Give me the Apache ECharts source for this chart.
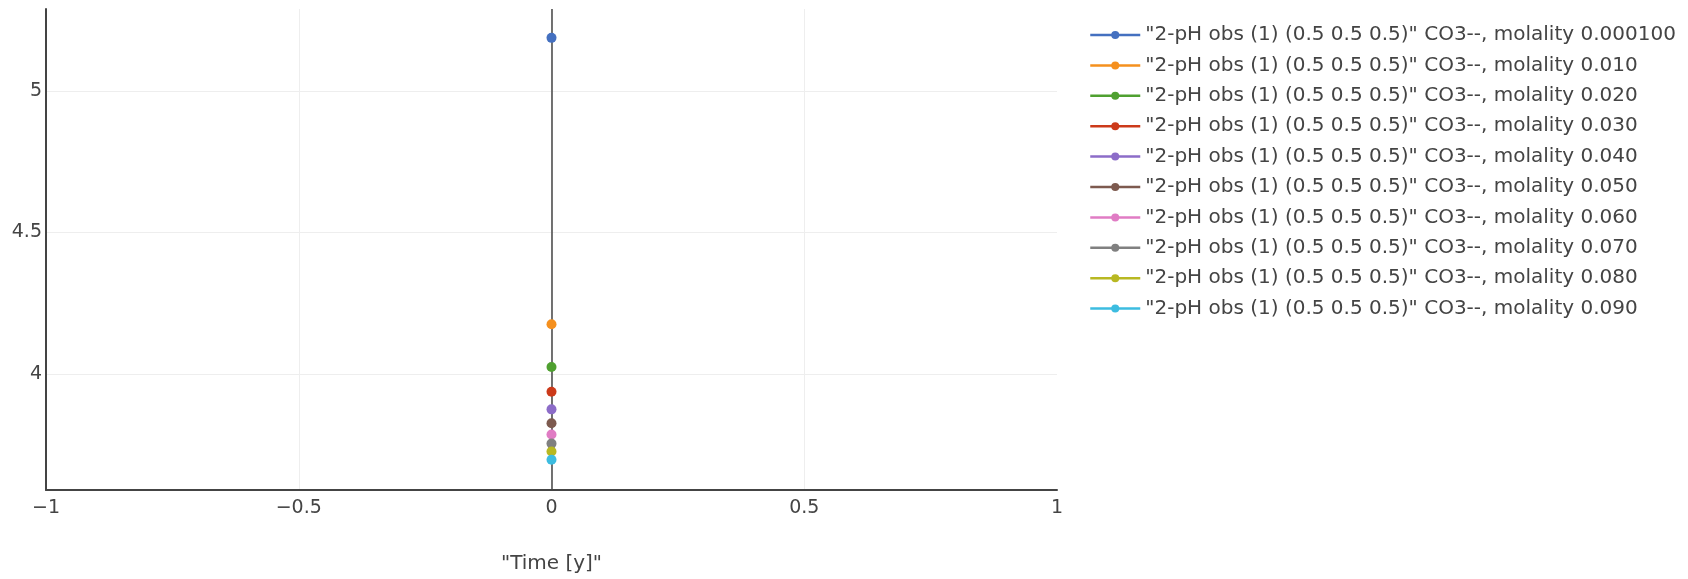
<!DOCTYPE html>
<html>
<head>
<meta charset="utf-8">
<script src="https://cdn.jsdelivr.net/npm/echarts@6/dist/echarts.min.js"></script>
<style>
html,body{margin:0;padding:0;background:#fff;}
#chart{width:1688px;height:579px;}
</style>
</head>
<body>
<div id="chart"></div>
<script>
// ---- data ----
const seriesNames = [
  '"2-pH obs (1) (0.5 0.5 0.5)" CO3--, molality 0.000100',
  '"2-pH obs (1) (0.5 0.5 0.5)" CO3--, molality 0.010',
  '"2-pH obs (1) (0.5 0.5 0.5)" CO3--, molality 0.020',
  '"2-pH obs (1) (0.5 0.5 0.5)" CO3--, molality 0.030',
  '"2-pH obs (1) (0.5 0.5 0.5)" CO3--, molality 0.040',
  '"2-pH obs (1) (0.5 0.5 0.5)" CO3--, molality 0.050',
  '"2-pH obs (1) (0.5 0.5 0.5)" CO3--, molality 0.060',
  '"2-pH obs (1) (0.5 0.5 0.5)" CO3--, molality 0.070',
  '"2-pH obs (1) (0.5 0.5 0.5)" CO3--, molality 0.080',
  '"2-pH obs (1) (0.5 0.5 0.5)" CO3--, molality 0.090'
];
const timeValues = [0];
const pHValues = [5.188, 4.176, 4.025, 3.937, 3.875, 3.826, 3.786, 3.754, 3.726, 3.697];
const seriesColors = ['#4470c0', '#f5901e', '#4fa030', '#cc3a1a', '#8c6cc8', '#7d5a4f', '#e07cc4', '#808080', '#b8b822', '#3cbce0'];
const yTicks = [4, 4.5, 5];
const yRange = [3.59, 5.29];
const xRange = [-1, 1];
const xInterval = 0.5;
const xTitle = '"Time [y]"';

// ---- chart ----
const FONT = 'DejaVu Sans';
const chart = echarts.init(document.getElementById('chart'), null, {renderer: 'canvas'});
const minusFmt = v => String(v).replace('-', '\u2212');

const series = [{
  name: '__zeroline',
  type: 'line',
  data: [],
  z: 1,
  silent: true,
  markLine: {
    silent: true,
    z: 1,
    symbol: 'none',
    label: {show: false},
    lineStyle: {color: '#444', width: 1.5, type: 'solid'},
    emphasis: {disabled: true},
    animation: false,
    data: [{xAxis: 0}]
  }
}];
seriesNames.forEach((name, i) => {
  series.push({
    name: name,
    type: 'line',
    z: 3,
    data: timeValues.map(t => [t, pHValues[i]]),
    symbol: 'circle',
    symbolSize: 10,
    showSymbol: true,
    color: seriesColors[i],
    lineStyle: {width: 2, color: seriesColors[i]},
    itemStyle: {color: seriesColors[i]},
    animation: false
  });
});

chart.setOption({
  animation: false,
  backgroundColor: '#fff',
  textStyle: {fontFamily: FONT},
  grid: {left: 46, right: 631, top: 9, bottom: 89, containLabel: false},
  legend: {
    data: seriesNames,
    orient: 'vertical',
    left: 1084,
    top: 20,
    itemWidth: 50,
    itemHeight: 10,
    itemGap: 10.4,
    lineStyle: {width: 2.5},
    textStyle: {fontFamily: FONT, fontSize: 20, color: '#444'},
    selectedMode: false
  },
  xAxis: {
    type: 'value',
    min: xRange[0],
    max: xRange[1],
    interval: xInterval,
    name: xTitle,
    nameLocation: 'middle',
    nameGap: 64,
    nameTextStyle: {fontFamily: FONT, fontSize: 20, color: '#444'},
    axisLine: {onZero: false, lineStyle: {color: '#444', width: 2}},
    axisTick: {show: false},
    axisLabel: {fontFamily: FONT, fontSize: 19, color: '#444', margin: 9, formatter: minusFmt},
    splitLine: {show: true, showMaxLine: false, lineStyle: {color: '#eee', width: 1}}
  },
  yAxis: {
    type: 'value',
    min: yRange[0],
    max: yRange[1],
    axisLine: {show: true, onZero: false, lineStyle: {color: '#444', width: 2}},
    axisTick: {show: false, customValues: yTicks},
    axisLabel: {fontFamily: FONT, fontSize: 19, color: '#444', margin: 4, customValues: yTicks},
    splitLine: {show: true, lineStyle: {color: '#eee', width: 1}}
  },
  series: series
});
</script>
</body>
</html>
